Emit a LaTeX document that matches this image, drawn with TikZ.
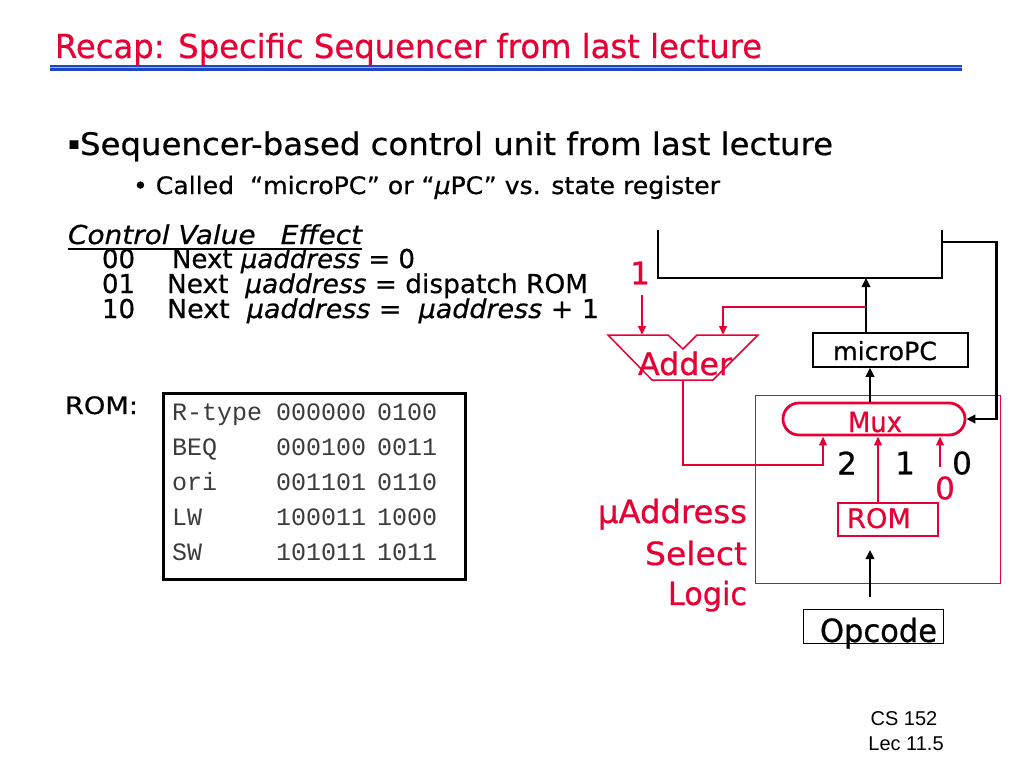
\documentclass[tikz,border=0pt]{standalone}
\usepackage{fontspec}
\usepackage{graphicx}
\setmainfont{DejaVu Sans}[FakeBold=0.6]
\newfontfamily\monof{Liberation Mono}
\newfontfamily\arialf{Liberation Sans}
\usetikzlibrary{arrows.meta}
\definecolor{cred}{RGB}{232,0,52}
\definecolor{blueA}{RGB}{30,70,200}
\definecolor{blueL}{RGB}{150,180,240}
\definecolor{romgray}{RGB}{60,60,60}
\newcommand{\fw}[2]{\resizebox{#1pt}{\height}{#2}}
\newcommand{\fs}[1]{\fontsize{#1}{#1}\selectfont}
\begin{document}
\begin{tikzpicture}[x=1pt,y=-1pt,
  t/.style={inner sep=0pt, outer sep=0pt},
  bw/.style={t, anchor=base west},
  be/.style={t, anchor=base east},
  barr/.style={line width=2.8pt, -{Triangle[length=9pt,width=8.5pt]}},
  rarr/.style={draw=cred, line width=2.5pt, -{Triangle[length=9pt,width=7.5pt]}},
  thinbox/.style={draw, line width=1.4pt, inner sep=0pt, anchor=north west},
  rtxt/.style={text=cred}]
\useasboundingbox[fill=white] (0,0) rectangle (1024,768);

% title
\node[bw, rtxt, font=\fs{33}] (title) at (55,58) {\fw{707}{Recap: Specific Sequencer from last lecture}};
\fill[blueA] (50,65) rectangle (962,70.5);
\draw[blueL, line width=0.8pt] (50,67.8) -- (962,67.8);

% bullets
\node[bw, font=\fs{31}] (b1) at (68,155) {\fw{765}{\raisebox{6pt}{\fs{17}▪}Sequencer-based control unit from last lecture}};
\node[bw, font=\fs{24}] (b2) at (133,194) {\fw{587}{•\ Called\ \ “microPC” or “\textit{µ}PC” vs. state register}};

% control table
\node[bw, font=\fs{26}\itshape] (hdr) at (68,244) {\fw{294}{Control Value\hspace{0.9em}Effect}};
\draw[line width=1.3pt] ([yshift=-5pt]hdr.base west) -- ([yshift=-5pt]hdr.base east);
\node[bw, font=\fs{26}] (r0n) at (102,268) {00};
\node[bw, font=\fs{26}] (r0t) at (172,268) {\fw{243}{Next \textit{µaddress} = 0}};
\node[bw, font=\fs{26}] (r1n) at (102,293) {01};
\node[bw, font=\fs{26}] (r1t) at (167,293) {\fw{421}{Next\ \ \textit{µaddress} = dispatch ROM}};
\node[bw, font=\fs{26}] (r2n) at (102,318) {10};
\node[bw, font=\fs{26}] (r2t) at (167,318) {\fw{432}{Next\ \ \textit{µaddress} =\ \ \textit{µaddress} + 1}};

% ROM table
\node[bw, font=\fs{24}] (romlbl) at (65,414) {\fw{73}{ROM:}};
\node[thinbox, line width=3pt, minimum width=302pt, minimum height=186pt] (romtab) at (162,392) {};
\foreach \i/\a/\b/\c in {0/R-type/000000/0100, 1/BEQ/000100/0011, 2/ori/001101/0110, 3/LW/100011/1000, 4/SW/101011/1011}{
  \node[bw, font=\monof\fs{25}, text=romgray] (ra\i) at (172,420+35*\i) {\a};
  \node[bw, font=\monof\fs{25}, text=romgray] (rb\i) at (276,420+35*\i) {\b};
  \node[bw, font=\monof\fs{25}, text=romgray] (rc\i) at (377,420+35*\i) {\c};
}

% right diagram: top (open) box
\coordinate (tbB) at (866,278);
\coordinate (fbS) at (942,242);
\draw[line width=1.4pt] (658,230) -- (658,278) -- (942,278) -- (942,230);

% microPC
\node[draw, line width=1.5pt, minimum width=155pt, minimum height=34pt, inner sep=0pt] (upc) at (890.5,350) {};
\node[bw, font=\fs{25}] (upcT) at (833,360) {\fw{104}{microPC}};

% select logic box
\node[thinbox, draw=cred, line width=1.3pt, minimum width=245pt, minimum height=188pt] (sel) at (755,395) {};

% Mux
\node[draw=cred, line width=2.8pt, rounded corners=16pt, minimum width=182pt, minimum height=32pt, inner sep=0pt] (mux) at (874,419) {};
\node[bw, rtxt, font=\fs{28}] (muxT) at (848,432) {\fw{54}{Mux}};

% ROM box
\node[thinbox, draw=cred, line width=2.2pt, minimum width=100pt, minimum height=33pt] (rom) at (837,502) {};
\node[bw, rtxt, font=\fs{27}] (romT) at (847,528) {\fw{64}{ROM}};

% Opcode box
\node[thinbox, minimum width=140pt, minimum height=34pt] (opc) at (803,609) {};
\node[bw, font=\fs{32}] (opcT) at (820,642) {\fw{117}{Opcode}};

% Adder
\coordinate (addInA) at (642,335);
\coordinate (addInB) at (723,335);
\coordinate (addOut) at (683,380);
\draw[cred, line width=1.5pt] (608,335) -- (668,335) -- (683,349) -- (697,335) -- (758,335) -- (713,380) -- (652,380) -- cycle;
\node[bw, rtxt, font=\fs{31}] (adder) at (638,375) {\fw{94}{Adder}};

% labels
\node[t, rtxt, font=\fs{31}] (one) at (640,273) {1};
\node[t, font=\fs{31}] (l2) at (847,463) {2};
\node[t, font=\fs{31}] (l1) at (905,463) {1};
\node[t, font=\fs{31}] (l0) at (962,463) {0};
\node[t, rtxt, font=\fs{31}] (l0r) at (945,488) {0};
\node[be, rtxt, font=\fs{32}] (ua1) at (747,523) {\fw{149}{µAddress}};
\node[be, rtxt, font=\fs{32}] (ua2) at (747,565) {\fw{102}{Select}};
\node[be, rtxt, font=\fs{32}] (ua3) at (747,605) {\fw{79}{Logic}};

% connectors
\coordinate (oneB) at (642,295);
\coordinate (brP) at (866,307);
\coordinate (mo) at (870,380);
\coordinate (in2B) at (823,465);
\coordinate (in1B) at (878,502);
\coordinate (in0B) at (940,467);
\coordinate (opA) at (870,597);
\coordinate (opB) at (870,550);

\draw[barr] (upc.north -| tbB) -- (tbB);
\draw[barr] (fbS) -| ([xshift=30pt]mux.east) -- (mux.east);
\draw[barr] (mux.north -| mo) -- (mo |- upc.south);
\draw[barr] (opA) -- (opB);
\draw[rarr] (oneB) -- (addInA);
\draw[rarr] (brP) -| (addInB);
\draw[rarr] (addOut) |- (in2B) -- (in2B |- mux.south);
\draw[rarr] (in1B) -- (in1B |- mux.south);
\draw[rarr] (in0B) -- (in0B |- mux.south);

% footer
\node[t, anchor=base, font=\arialf\fs{20}] (cs1) at (904,725) {CS 152};
\node[t, anchor=base, font=\arialf\fs{20}] (cs2) at (906,750) {Lec 11.5};
\end{tikzpicture}
\end{document}
